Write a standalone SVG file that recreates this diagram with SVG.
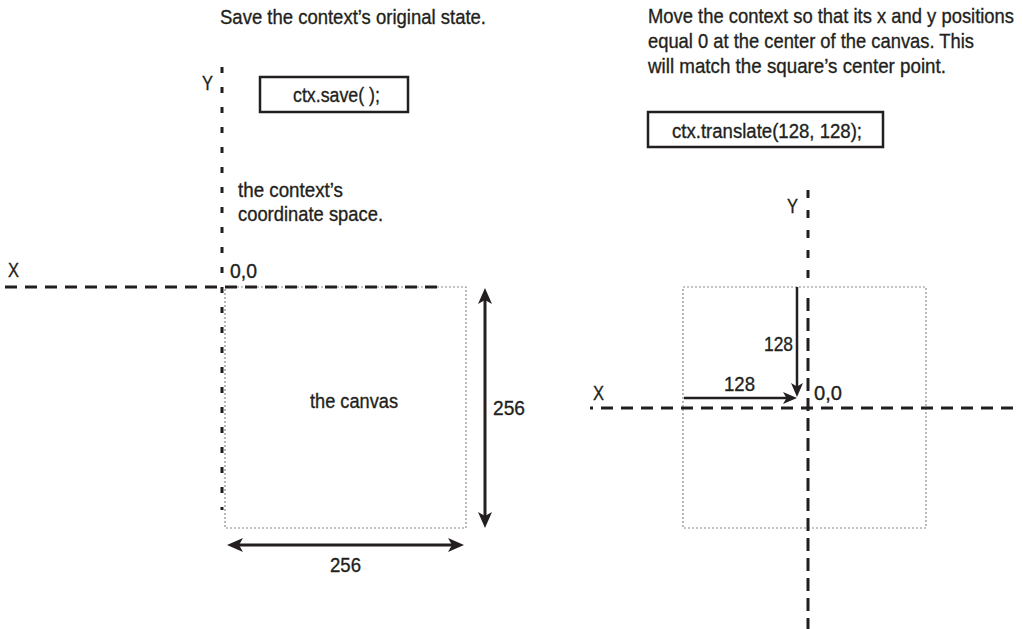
<svg xmlns="http://www.w3.org/2000/svg" width="1023" height="629" viewBox="0 0 1023 629">
  <style>
    text { font-family: "Liberation Sans", Arial, sans-serif; font-size: 20.5px; fill: #231f20; stroke: #231f20; stroke-width: 0.35px; }
    .axis { fill: none; stroke: #231f20; stroke-width: 3; }
    .dot { fill: none; stroke: #8a8a8a; stroke-width: 1.2; stroke-dasharray: 2 2; }
    .box { fill: #fff; stroke: #231f20; stroke-width: 2.5; }
    .big { fill: none; stroke: #231f20; stroke-width: 3; }
    .small { fill: none; stroke: #231f20; stroke-width: 2.5; }
  </style>
  <defs>
    <marker id="headBig" viewBox="0 0 16 14" refX="6" refY="7" markerWidth="16" markerHeight="14" markerUnits="userSpaceOnUse" orient="auto-start-reverse">
      <path d="M0,0 L16,7 L0,14 L4,7 Z" fill="#231f20"/>
    </marker>
    <marker id="headSmall" viewBox="0 0 14 12" refX="5" refY="6" markerWidth="14" markerHeight="12" markerUnits="userSpaceOnUse" orient="auto-start-reverse">
      <path d="M0,0 L14,6 L0,12 L3.5,6 Z" fill="#231f20"/>
    </marker>
  </defs>
  <rect width="1023" height="629" fill="#fff"/>

  <!-- Left panel -->
  <g id="left-title"><text x="220" y="24" textLength="266" lengthAdjust="spacingAndGlyphs">Save the context’s original state.</text></g>
  <g id="left-canvas">
    <rect class="dot" x="225" y="287" width="241" height="241"/>
    <text x="310" y="408" textLength="88" lengthAdjust="spacingAndGlyphs">the canvas</text>
  </g>
  <g id="left-axes">
    <path class="axis" d="M222,67 V510" stroke-dasharray="6 14"/>
    <path class="axis" d="M5,287 H443" stroke-dasharray="12 8"/>
    <text x="202" y="90" textLength="11" lengthAdjust="spacingAndGlyphs">Y</text>
    <text x="8" y="277" textLength="11" lengthAdjust="spacingAndGlyphs">X</text>
    <text x="230" y="278" textLength="27" lengthAdjust="spacingAndGlyphs">0,0</text>
  </g>
  <g id="save-box">
    <rect class="box" x="260" y="77" width="148" height="35"/>
    <text x="293" y="102" textLength="87" lengthAdjust="spacingAndGlyphs">ctx.save( );</text>
  </g>
  <g id="coord-label">
    <text x="238" y="197" textLength="105" lengthAdjust="spacingAndGlyphs">the context’s</text>
    <text x="238" y="221" textLength="145" lengthAdjust="spacingAndGlyphs">coordinate space.</text>
  </g>

  <!-- Right panel -->
  <g id="right-title" transform="translate(648,0) scale(0.9,1)">
    <text x="0" y="23" textLength="406.7" lengthAdjust="spacingAndGlyphs">Move the context so that its x and y positions</text>
    <text x="0" y="48" textLength="362.2" lengthAdjust="spacingAndGlyphs">equal 0 at the center of the canvas. This</text>
    <text x="0" y="73" textLength="331.1" lengthAdjust="spacingAndGlyphs">will match the square’s center point.</text>
  </g>
  <g id="translate-box">
    <rect class="box" x="648" y="112" width="235" height="35"/>
    <text x="672" y="138" textLength="190" lengthAdjust="spacingAndGlyphs">ctx.translate(128, 128);</text>
  </g>
  <g id="right-canvas">
    <rect class="dot" x="683" y="287" width="243" height="241"/>
  </g>
  <g id="right-axes">
    <path class="axis" d="M808,190 V290" stroke-dasharray="8 12"/>
    <path class="axis" d="M808,298 V629" stroke-dasharray="13 7"/>
    <path class="axis" d="M590,408 H1013" stroke-dasharray="12 8" stroke-dashoffset="9"/>
    <text x="787" y="213" textLength="11" lengthAdjust="spacingAndGlyphs">Y</text>
    <text x="593" y="400" textLength="11" lengthAdjust="spacingAndGlyphs">X</text>
    <text x="814" y="400" textLength="28" lengthAdjust="spacingAndGlyphs">0,0</text>
  </g>

  <!-- Connectors -->
  <g id="connectors">
    <path class="big" d="M485,298 V518" marker-start="url(#headBig)" marker-end="url(#headBig)"/>
    <path class="big" d="M237,545 H454" marker-start="url(#headBig)" marker-end="url(#headBig)"/>
    <path class="small" d="M797,287 V388" marker-end="url(#headSmall)"/>
    <path class="small" d="M684,398 H788" marker-end="url(#headSmall)"/>
  </g>
  <g id="dimension-labels">
    <text x="493" y="415" textLength="32" lengthAdjust="spacingAndGlyphs">256</text>
    <text x="330" y="572" textLength="31" lengthAdjust="spacingAndGlyphs">256</text>
    <text x="764" y="351" textLength="29" lengthAdjust="spacingAndGlyphs">128</text>
    <text x="724" y="391" textLength="31" lengthAdjust="spacingAndGlyphs">128</text>
  </g>
</svg>
